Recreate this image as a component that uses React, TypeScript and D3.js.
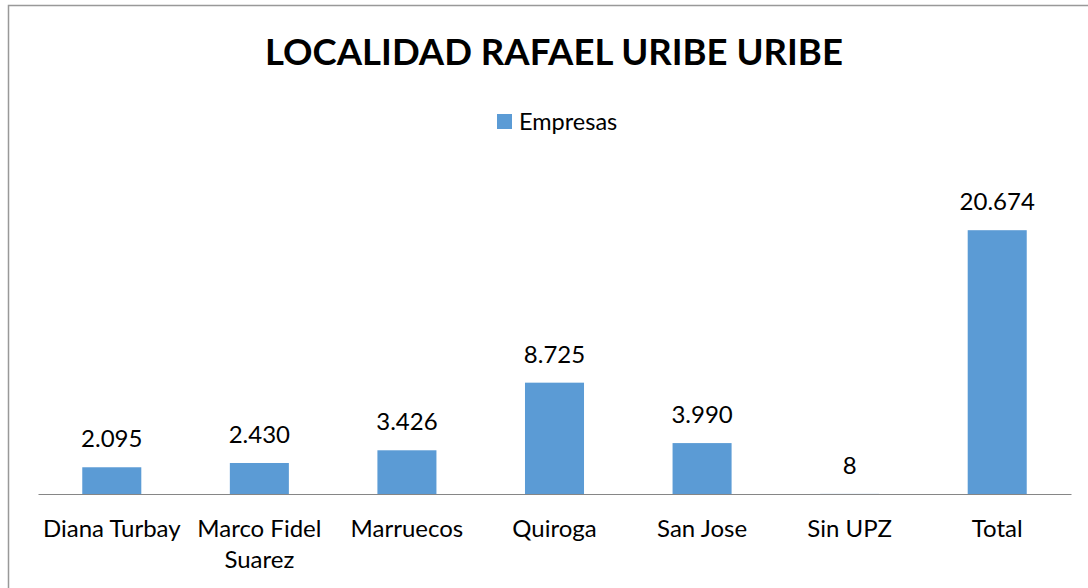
import React, { useEffect, useRef } from "react";
import * as d3 from "d3";

const categories = ["Diana Turbay", "Marco Fidel Suarez", "Marruecos", "Quiroga", "San Jose", "Sin UPZ", "Total"];
const empresas = [2095, 2430, 3426, 8725, 3990, 8, 20674];
const seriesName = "Empresas";
const title = "LOCALIDAD RAFAEL URIBE URIBE";

const W = 1088;
const H = 588;
const FONT = "Lato, 'Open Sans', sans-serif";
const FS = 24;

export default function App() {
  const ref = useRef<SVGSVGElement | null>(null);

  useEffect(() => {
    const svg = d3.select(ref.current);
    svg.selectAll("*").remove();

    const x = d3.scaleBand<string>().domain(categories).range([38, 1071]).paddingInner(0.6).paddingOuter(0.3);
    const y = d3.scaleLinear().domain([0, 25000]).range([494, 175]);
    const fmt = (v: number) => d3.format(",")(v).replace(/,/g, ".");

    // chart border
    svg.append("rect")
      .attr("x", 8.5).attr("y", 5.5).attr("width", W + 20).attr("height", H + 20)
      .attr("fill", "#fff").attr("stroke", "#999").attr("stroke-width", 1.5);

    // title
    svg.append("text")
      .attr("x", 554).attr("y", 65)
      .attr("text-anchor", "middle")
      .attr("font-family", FONT).attr("font-weight", "bold").attr("font-size", 36.5)
      .attr("fill", "#000")
      .text(title);

    // legend
    svg.append("rect").attr("x", 497).attr("y", 114).attr("width", 15).attr("height", 15).attr("fill", "#5B9BD5");
    svg.append("text")
      .attr("x", 519).attr("y", 130)
      .attr("font-family", FONT).attr("font-size", 23.5).attr("fill", "#000")
      .text(seriesName);

    // bars
    svg.append("g").selectAll("rect").data(empresas).join("rect")
      .attr("x", (_d, i) => x(categories[i]) as number)
      .attr("y", (d) => y(d))
      .attr("width", x.bandwidth())
      .attr("height", (d) => y(0) - y(d))
      .attr("fill", "#5B9BD5");

    // value labels
    svg.append("g").selectAll("text").data(empresas).join("text")
      .attr("x", (_d, i) => (x(categories[i]) as number) + x.bandwidth() / 2)
      .attr("y", (d) => y(d) - 20)
      .attr("text-anchor", "middle")
      .attr("font-family", FONT).attr("font-size", FS).attr("fill", "#000")
      .text((d) => fmt(d));

    // axis
    const axis = d3.axisBottom(x).tickSize(0).tickPadding(0);
    const g = svg.append("g").attr("transform", `translate(0,${y(0)})`).call(axis);
    g.select(".domain").attr("stroke", "#868686").attr("stroke-width", 1);
    const step = x.step();
    g.selectAll<SVGTextElement, string>(".tick text")
      .attr("font-family", FONT).attr("font-size", FS).attr("fill", "#000")
      .attr("dy", null)
      .each(function (d) {
        const t = d3.select(this);
        const words = d.split(/\s+/);
        t.text(null);
        let line: string[] = [];
        let lineNo = 0;
        let tspan = t.append("tspan").attr("x", 0).attr("y", 43);
        for (const w of words) {
          line.push(w);
          tspan.text(line.join(" "));
          if ((tspan.node() as SVGTSpanElement).getComputedTextLength() > step - 2 && line.length > 1) {
            line.pop();
            tspan.text(line.join(" "));
            line = [w];
            lineNo++;
            tspan = t.append("tspan").attr("x", 0).attr("y", 43 + lineNo * 31).text(w);
          }
        }
      });
  }, []);

  return (
    <svg ref={ref} width={W} height={H} style={{ position: "absolute", left: 0, top: 0, background: "#fff" }} />
  );
}
